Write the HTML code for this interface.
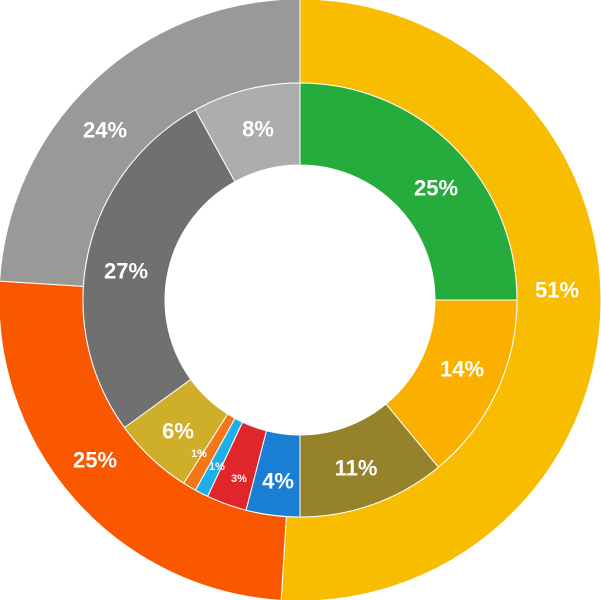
<!DOCTYPE html>
<html><head><meta charset="utf-8"><style>
html,body{margin:0;padding:0;background:#fff;width:601px;height:600px;overflow:hidden}
svg text{font-family:"Liberation Sans",sans-serif;font-weight:bold;fill:#fff;text-anchor:middle;dominant-baseline:central}
</style></head><body>
<svg id="s" width="601" height="600" viewBox="0 0 601 600" xmlns="http://www.w3.org/2000/svg">
<g id="g"></g>
<text x="557" y="290" font-size="22">51%</text>
<text x="95" y="460" font-size="22">25%</text>
<text x="105" y="130" font-size="22">24%</text>
<text x="436" y="188" font-size="22">25%</text>
<text x="462" y="369" font-size="22">14%</text>
<text x="356" y="468" font-size="22">11%</text>
<text x="278" y="481" font-size="22">4%</text>
<text x="239" y="479" font-size="11">3%</text>
<text x="217" y="467" font-size="11">1%</text>
<text x="199" y="454" font-size="11">1%</text>
<text x="178" y="431" font-size="22">6%</text>
<text x="126" y="271" font-size="22">27%</text>
<text x="258" y="129" font-size="22">8%</text>
</svg>
<script>
var cx=300,cy=300,g=document.getElementById('g');
function ring(data,r0,r1){var a=0;data.forEach(function(d){var a0=a,a1=a+d[0]*3.6;a=a1;
var t0=a0*Math.PI/180,t1=a1*Math.PI/180,l=(a1-a0)>180?1:0;
function p(r,t){return (cx+r*Math.sin(t)).toFixed(2)+' '+(cy-r*Math.cos(t)).toFixed(2)}
var path='M'+p(r1,t0)+' A'+r1+' '+r1+' 0 '+l+' 1 '+p(r1,t1)+' L'+p(r0,t1)+' A'+r0+' '+r0+' 0 '+l+' 0 '+p(r0,t0)+'Z';
var e=document.createElementNS('http://www.w3.org/2000/svg','path');e.setAttribute('d',path);e.setAttribute('fill',d[1]);
e.setAttribute('stroke','#fff');e.setAttribute('stroke-width','1');g.appendChild(e);});}
ring([[51,'#F8BC00'],[25,'#F95700'],[24,'#999999']],217,301);
ring([[25,'#25AC3C'],[14,'#FBB000'],[11,'#96822A'],[4,'#1A7FD4'],[3,'#E0252B'],[1,'#1DB0E8'],[1,'#F07818'],[6,'#CFAE2A'],[27,'#707070'],[8,'#ADADAD']],135,217);
</script>
</body></html>
